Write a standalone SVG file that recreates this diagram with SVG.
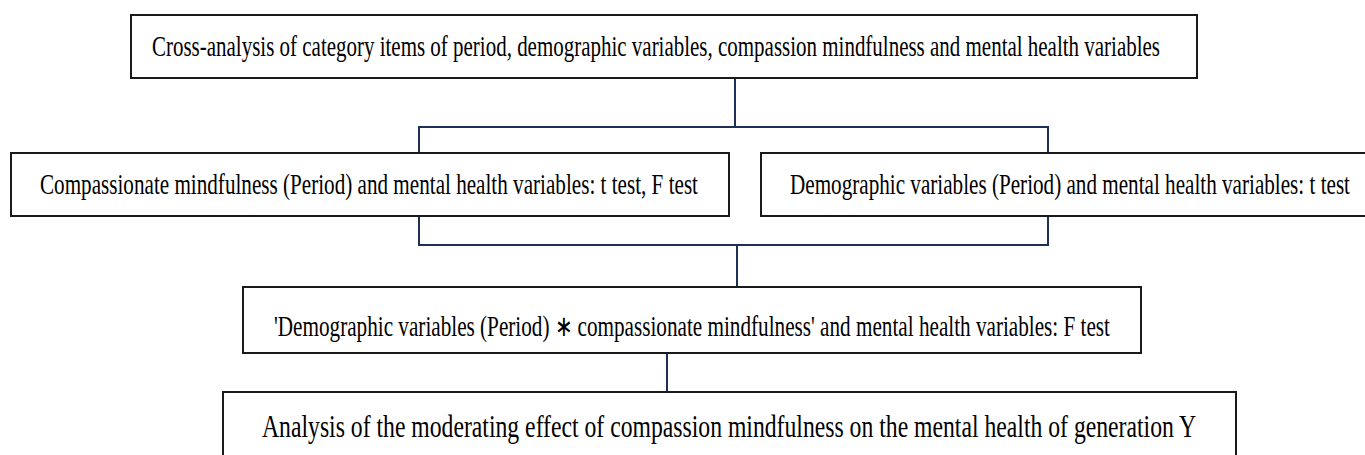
<svg xmlns="http://www.w3.org/2000/svg" width="1365" height="455" viewBox="0 0 1365 455">
  <style>
    .box { fill: #ffffff; stroke: #1a1a1a; stroke-width: 2; }
    .link { fill: none; stroke: #1f2f57; stroke-width: 2; }
    .label { font-family: "Liberation Serif", "Times New Roman", serif; fill: #000000; }
  </style>
  <rect width="1365" height="455" fill="#ffffff"/>

  <!-- connectors -->
  <g id="connectors">
    <path class="link" d="M735 78 V127"/>
    <path class="link" d="M419 153 V127 H1048 V153"/>
    <path class="link" d="M419 216 V245 H1048 V216"/>
    <path class="link" d="M737 245 V287"/>
    <path class="link" d="M667 353 V392"/>
  </g>

  <!-- top node -->
  <g id="node-cross-analysis">
    <rect class="box" x="131" y="15" width="1066" height="63"/>
    <text class="label" x="152" y="56" font-size="29" textLength="1008" lengthAdjust="spacingAndGlyphs">Cross-analysis of category items of period, demographic variables, compassion mindfulness and mental health variables</text>
  </g>

  <!-- middle left node -->
  <g id="node-compassionate">
    <rect class="box" x="11" y="153" width="718" height="63"/>
    <text class="label" x="40" y="194" font-size="29" textLength="658" lengthAdjust="spacingAndGlyphs">Compassionate mindfulness (Period) and mental health variables: t test, F test</text>
  </g>

  <!-- middle right node -->
  <g id="node-demographic">
    <rect class="box" x="761" y="153" width="612" height="63"/>
    <text class="label" x="790" y="194" font-size="29" textLength="560" lengthAdjust="spacingAndGlyphs">Demographic variables (Period) and mental health variables: t test</text>
  </g>

  <!-- interaction node -->
  <g id="node-interaction">
    <rect class="box" x="243" y="287" width="898" height="66"/>
    <text class="label" x="274" y="336" font-size="29" textLength="836" lengthAdjust="spacingAndGlyphs">'Demographic variables (Period) ∗ compassionate mindfulness' and mental health variables: F test</text>
  </g>

  <!-- result node -->
  <g id="node-moderating">
    <rect class="box" x="223" y="392" width="1013" height="75"/>
    <text class="label" x="262" y="437" font-size="32" textLength="934" lengthAdjust="spacingAndGlyphs">Analysis of the moderating effect of compassion mindfulness on the mental health of generation Y</text>
  </g>
</svg>
